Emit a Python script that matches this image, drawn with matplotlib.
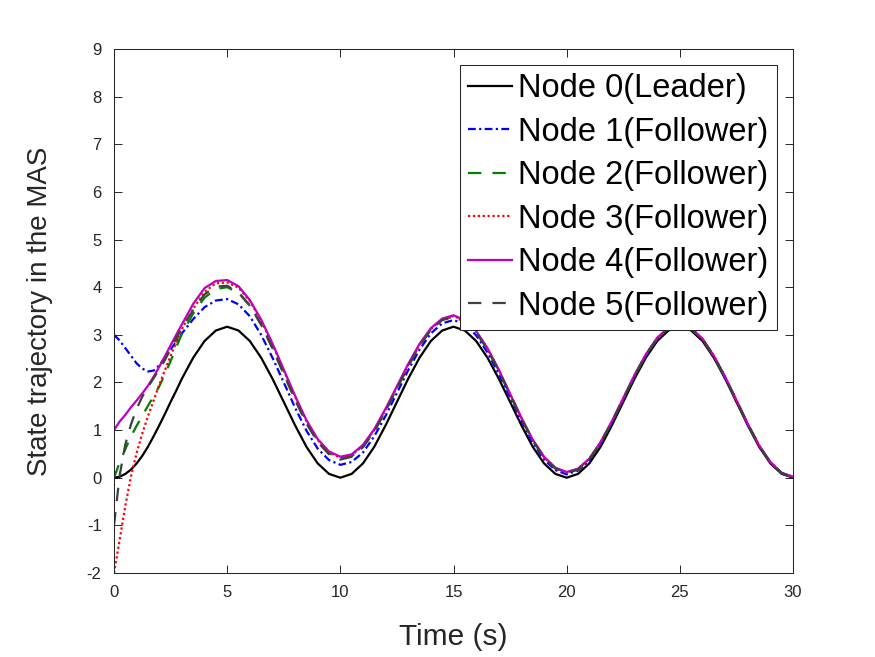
import matplotlib
matplotlib.use("Agg")
import matplotlib.pyplot as plt

plt.rcParams['font.family'] = ['Liberation Sans', 'DejaVu Sans']

t = [0, 0.25, 0.5, 0.75, 1, 1.25, 1.5, 1.75, 2, 2.25, 2.5, 2.75, 3,
     3.5, 4, 4.5, 5, 5.5, 6, 6.5, 7, 7.5, 8, 8.5, 9, 9.5, 10,
     10.5, 11, 11.5, 12, 12.5, 13, 13.5, 14, 14.5, 15, 15.5, 16, 16.5, 17, 17.5, 18, 18.5, 19, 19.5, 20,
     20.5, 21, 21.5, 22, 22.5, 23, 23.5, 24, 24.5, 25, 25.5, 26, 26.5, 27, 27.5, 28, 28.5, 29, 29.5, 30]

node0 = [0, 0.02, 0.08, 0.17, 0.30, 0.46, 0.65, 0.87, 1.10, 1.34, 1.59, 1.83, 2.08,
         2.52, 2.87, 3.09, 3.17, 3.09, 2.87, 2.52, 2.08, 1.59, 1.10, 0.65, 0.30, 0.08, 0,
         0.08, 0.30, 0.65, 1.10, 1.59, 2.08, 2.52, 2.87, 3.09, 3.17, 3.09, 2.87, 2.52, 2.08, 1.59, 1.10, 0.65, 0.30, 0.08, 0,
         0.08, 0.30, 0.65, 1.10, 1.59, 2.08, 2.52, 2.87, 3.09, 3.17, 3.09, 2.87, 2.52, 2.08, 1.59, 1.10, 0.65, 0.30, 0.08, 0]

node1 = [3.0, 2.88, 2.72, 2.56, 2.40, 2.29, 2.23, 2.25, 2.36, 2.52, 2.69, 2.86, 3.03,
         3.33, 3.58, 3.72, 3.75, 3.64, 3.39, 3.00, 2.52, 2.00, 1.47, 0.99, 0.61, 0.37, 0.27,
         0.33, 0.53, 0.87, 1.30, 1.78, 2.26, 2.69, 3.03, 3.24, 3.31, 3.22, 2.99, 2.63, 2.18, 1.69, 1.19, 0.74, 0.38, 0.16, 0.07,
         0.15, 0.36, 0.71, 1.15, 1.64, 2.13, 2.56, 2.91, 3.13, 3.20, 3.12, 2.90, 2.55, 2.10, 1.61, 1.12, 0.67, 0.32, 0.09, 0.01]

node2 = [0, 0.32, 0.60, 0.87, 1.09, 1.30, 1.51, 1.71, 1.92, 2.17, 2.45, 2.74, 3.02,
         3.45, 3.78, 3.96, 4.00, 3.88, 3.61, 3.21, 2.72, 2.18, 1.64, 1.15, 0.76, 0.51, 0.40,
         0.45, 0.65, 0.98, 1.41, 1.88, 2.35, 2.78, 3.11, 3.32, 3.38, 3.29, 3.06, 2.70, 2.25, 1.75, 1.25, 0.79, 0.43, 0.20, 0.11,
         0.17, 0.39, 0.73, 1.17, 1.66, 2.14, 2.58, 2.92, 3.14, 3.21, 3.13, 2.91, 2.55, 2.11, 1.62, 1.13, 0.67, 0.32, 0.10, 0.01]

node3 = [-2.0, -1.30, -0.59, 0.03, 0.52, 0.93, 1.29, 1.62, 1.95, 2.26, 2.56, 2.84, 3.12,
         3.55, 3.90, 4.08, 4.10, 3.99, 3.71, 3.30, 2.80, 2.25, 1.70, 1.19, 0.79, 0.53, 0.42,
         0.47, 0.67, 1.00, 1.43, 1.90, 2.37, 2.79, 3.12, 3.33, 3.39, 3.30, 3.07, 2.71, 2.26, 1.75, 1.25, 0.79, 0.43, 0.20, 0.11,
         0.18, 0.40, 0.74, 1.18, 1.67, 2.15, 2.59, 2.93, 3.15, 3.22, 3.14, 2.91, 2.56, 2.12, 1.62, 1.13, 0.68, 0.32, 0.10, 0.02]

node4 = [1.0, 1.18, 1.32, 1.48, 1.62, 1.77, 1.93, 2.12, 2.33, 2.55, 2.78, 3.00, 3.22,
         3.65, 3.98, 4.13, 4.15, 4.02, 3.73, 3.32, 2.82, 2.27, 1.72, 1.21, 0.81, 0.55, 0.44,
         0.49, 0.69, 1.02, 1.45, 1.92, 2.39, 2.81, 3.14, 3.34, 3.41, 3.31, 3.08, 2.72, 2.27, 1.76, 1.26, 0.80, 0.44, 0.21, 0.12,
         0.19, 0.40, 0.75, 1.19, 1.67, 2.16, 2.59, 2.94, 3.15, 3.23, 3.14, 2.92, 2.56, 2.12, 1.63, 1.13, 0.68, 0.33, 0.10, 0.02]

node5 = [-1.0, 0.05, 0.70, 1.12, 1.45, 1.70, 1.90, 2.09, 2.27, 2.47, 2.70, 2.93, 3.15,
         3.52, 3.85, 4.01, 4.03, 3.89, 3.62, 3.22, 2.72, 2.18, 1.64, 1.14, 0.75, 0.49, 0.38,
         0.44, 0.64, 0.97, 1.40, 1.87, 2.34, 2.77, 3.10, 3.31, 3.37, 3.28, 3.05, 2.69, 2.24, 1.74, 1.24, 0.78, 0.42, 0.19, 0.10,
         0.17, 0.39, 0.73, 1.17, 1.66, 2.14, 2.58, 2.92, 3.14, 3.21, 3.13, 2.91, 2.55, 2.11, 1.62, 1.13, 0.67, 0.32, 0.10, 0.01]

labels = ['Node 0(Leader)', 'Node 1(Follower)', 'Node 2(Follower)',
          'Node 3(Follower)', 'Node 4(Follower)', 'Node 5(Follower)']
xticks = [0, 5, 10, 15, 20, 25, 30]
yticks = [-2, -1, 0, 1, 2, 3, 4, 5, 6, 7, 8, 9]

fig = plt.figure(figsize=(8.75, 6.57), dpi=100)
ax = fig.add_axes([0.1303, 0.1279, 0.776, 0.7975])

lw = 1.6
common = dict(lw=lw, solid_joinstyle='round', dash_joinstyle='round')
ax.plot(t, node0, color='black', ls='-', label=labels[0], **common)
ax.plot(t, node1, color='#0000ff', dashes=(3.5, 1.5, 1.0, 1.5), label=labels[1], **common)
ax.plot(t, node2, color='#008000', dashes=(6, 5), label=labels[2], **common)
ax.plot(t, node3, color='#ff0000', dashes=(1, 1.2), label=labels[3], **common)
ax.plot(t, node4, color='#bf00bf', ls='-', label=labels[4], **common)
ax.plot(t, node5, color='#404040', dashes=(6, 5), label=labels[5], **common)

ax.set_xlim(0, 30)
ax.set_ylim(-2, 9)
ax.set_xticks(xticks)
ax.set_yticks(yticks)
ax.set_xticklabels([str(v) for v in xticks])
ax.set_yticklabels([str(v) for v in yticks])
ax.tick_params(direction='in', length=6, width=0.7, top=True, right=True,
               labelsize=12, colors='#262626', pad=9)
for s in ax.spines.values():
    s.set_color('#262626')
    s.set_linewidth(0.75)

ax.set_xlabel('Time (s)', fontsize=21.5, color='#262626', labelpad=16)
ax.set_ylabel('State trajectory in the MAS', fontsize=20, color='#262626', labelpad=24)

leg = ax.legend(loc='upper right', fontsize=23.5, frameon=True, fancybox=False,
                framealpha=1, edgecolor='#262626', handlelength=1.35,
                handletextpad=0.2, labelspacing=0.38, borderpad=0.25,
                borderaxespad=0.5)
leg.get_frame().set_linewidth(0.75)

fig.savefig('out.png', dpi=100)
